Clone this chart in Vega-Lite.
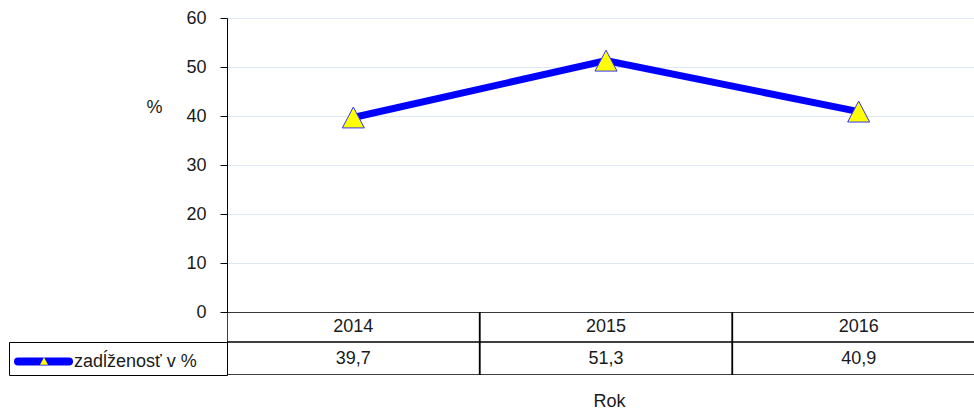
{
  "$schema": "https://vega.github.io/schema/vega-lite/v6.json",
  "padding": {"left": 8, "top": 9, "right": 0, "bottom": 0},
  "background": "white",
  "bounds": "flush",
  "spacing": 0,
  "columns": 2,
  "data": {"values": [
    {"year": "2014", "value": 39.7},
    {"year": "2015", "value": 51.3},
    {"year": "2016", "value": 40.9}
  ]},
  "config": {
    "view": {"stroke": null},
    "font": "Liberation Sans",
    "locale": {"number": {"decimal": ",", "thousands": " ", "grouping": [3], "currency": ["", " €"]}},
    "axis": {"labelFont": "Liberation Sans", "titleFont": "Liberation Sans"},
    "legend": {"labelFont": "Liberation Sans"}
  },
  "concat": [
    {"width": 218, "height": 294, "data": {"values": []}, "mark": "text"},
    {
      "width": 747,
      "height": 294,
      "encoding": {
        "x": {"field": "year", "type": "ordinal", "scale": {"type": "point", "padding": 0.5, "range": [0, 758]}, "axis": null},
        "y": {
          "field": "value", "type": "quantitative",
          "scale": {"domain": [0, 60]},
          "axis": {
            "values": [0, 10, 20, 30, 40, 50, 60],
            "title": "%", "titleAngle": 0, "titleX": -73, "titleY": 89,
            "titleAlign": "center", "titleBaseline": "middle",
            "titleFontSize": 18, "titleFontWeight": "normal", "titleColor": "#1a1a1a",
            "labelFontSize": 18, "labelColor": "#1a1a1a", "labelPadding": 14,
            "tickSize": 7, "tickColor": "#000000", "domainColor": "#000000",
            "grid": true, "gridColor": "#dde8f5"
          }
        }
      },
      "layer": [
        {
          "mark": {"type": "line", "strokeWidth": 7},
          "encoding": {
            "color": {
              "datum": "zadĺženosť v %",
              "scale": {"range": ["#0000ff"]},
              "legend": {
                "orient": "none", "legendX": 5, "legendY": 314, "title": null, "padding": 0,
                "symbolType": "stroke", "symbolSize": 2601, "symbolStrokeWidth": 8,
                "labelFontSize": 18, "labelColor": "#1a1a1a", "labelOffset": 1,
                "encode": {"symbols": {"update": {"strokeCap": {"value": "round"}}}}
              }
            }
          }
        },
        {
          "mark": {"type": "point", "filled": true, "fill": "#ffff00", "stroke": "#3333ff", "strokeWidth": 1, "size": 484, "opacity": 1},
          "encoding": {
            "shape": {
              "datum": "▲",
              "scale": {"range": ["M0,-0.95L1,0.95L-1,0.95Z"]},
              "legend": {
                "orient": "none", "legendX": 30, "legendY": 338, "title": null, "padding": 0,
                "symbolSize": 64, "symbolFillColor": "#ffff00", "symbolStrokeColor": "#3333ff",
                "symbolStrokeWidth": 1, "symbolOpacity": 1, "labelExpr": "''"
              }
            }
          }
        }
      ]
    },
    {"width": 218, "height": 30, "data": {"values": []}, "mark": "text"},
    {
      "width": 747,
      "height": 30,
      "encoding": {
        "x": {"field": "year", "type": "ordinal", "scale": {"type": "band", "paddingInner": 0, "paddingOuter": 0, "range": [0, 758]}, "axis": null}
      },
      "layer": [
        {"mark": {"type": "rect", "fill": "#ffffff", "fillOpacity": 0, "stroke": "#000000", "strokeWidth": 1.5, "clip": true}},
        {"mark": {"type": "text", "fontSize": 18, "color": "#1a1a1a"}, "encoding": {"text": {"field": "year"}}}
      ]
    },
    {"width": 218, "height": 33, "data": {"values": []}, "mark": "text", "view": {"stroke": "#000000", "strokeWidth": 1}},
    {
      "width": 747,
      "height": 33,
      "encoding": {
        "x": {
          "field": "year", "type": "ordinal",
          "scale": {"type": "band", "paddingInner": 0, "paddingOuter": 0, "range": [0, 758]},
          "axis": {"title": "Rok", "labels": false, "ticks": false, "domain": false, "titlePadding": 17, "titleFontSize": 18, "titleFontWeight": "normal", "titleColor": "#1a1a1a", "titleX": 382}
        }
      },
      "layer": [
        {"mark": {"type": "rect", "fill": "#ffffff", "fillOpacity": 0, "stroke": "#000000", "strokeWidth": 1.5, "clip": true}},
        {"mark": {"type": "text", "fontSize": 18, "color": "#1a1a1a"}, "encoding": {"text": {"field": "value", "format": ".1f"}}}
      ]
    }
  ]
}
